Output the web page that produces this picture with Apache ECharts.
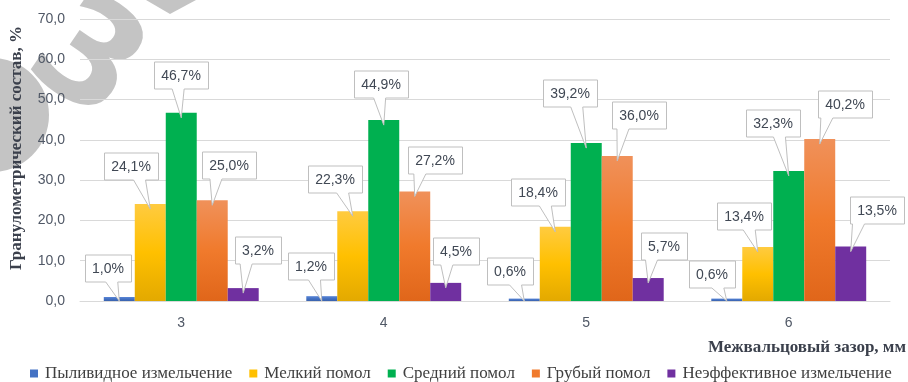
<!DOCTYPE html>
<html>
<head>
<meta charset="utf-8">
<script src="https://cdn.jsdelivr.net/npm/echarts@6/dist/echarts.min.js"></script>
<style>
  html, body { margin: 0; padding: 0; background: #fff; }
  #chart { width: 908px; height: 382px; }
</style>
</head>
<body>
<div id="chart"></div>
<script>
// Roll gap (mm) categories
const categories = ['3', '4', '5', '6'];

// Particle-size fractions, % for each roll gap
const seriesNames = [
  'Пыливидное измельчение',
  'Мелкий помол',
  'Средний помол',
  'Грубый помол',
  'Неэффективное измельчение'
];
const dustFraction        = [1.0, 1.2, 0.6, 0.6];
const fineGrind           = [24.1, 22.3, 18.4, 13.4];
const mediumGrind         = [46.7, 44.9, 39.2, 32.3];
const coarseGrind         = [25.0, 27.2, 36.0, 40.2];
const ineffectiveGrinding = [3.2, 4.5, 5.7, 13.5];
const seriesValues = [dustFraction, fineGrind, mediumGrind, coarseGrind, ineffectiveGrinding];

// Value axis ticks
const yTicks = [0, 10, 20, 30, 40, 50, 60, 70];

// Callout box offsets from the top of each bar [dx, dy] (layout only)
const calloutOffsets = [
  [[-11, -29], [-11, -30], [-14, -28], [-15, -25]],
  [[-19, -38], [-18, -32], [-17, -35], [-14, -31]],
  [[0, -38],   [-3, -36],  [-16, -50], [-16, -48]],
  [[17, -35],  [20, -31],  [22, -41],  [25, -35]],
  [[15, -38],  [10, -32],  [16, -32],  [26, -37]]
];

const CAT_GAP = 0.235;
const N = seriesValues.length;
const LABEL_FONT = '14px "Liberation Sans", Arial, sans-serif';
const SERIF = '"Liberation Serif", "Times New Roman", serif';
const fmt = v => v.toFixed(1).replace('.', ',');

const measureCtx = document.createElement('canvas').getContext('2d');
measureCtx.font = LABEL_FONT;

function vGrad(stops) {
  return new echarts.graphic.LinearGradient(0, 0, 0, 1,
    stops.map((c, i) => ({ offset: i / (stops.length - 1), color: c })));
}
const barColors = [
  vGrad(['#5B86D6', '#4472C4', '#3A62AD']),
  vGrad(['#FFCB40', '#FFC000', '#E3A900']),
  '#00B050',
  vGrad(['#F0915A', '#F07A2C', '#E0661A']),
  '#7030A0'
];
const legendColors = ['#4472C4', '#FFC000', '#00B050', '#F07A2C', '#7030A0'];

const barSeries = seriesNames.map((name, i) => ({
  name: name,
  type: 'bar',
  data: seriesValues[i],
  barGap: '0%',
  barCategoryGap: (CAT_GAP * 100) + '%',
  itemStyle: { color: barColors[i] },
  emphasis: { disabled: true },
  z: 2
}));

// Callout data: [category index, value, series index, dx, dy]
const calloutData = [];
seriesValues.forEach((vals, s) => {
  vals.forEach((v, c) => {
    calloutData.push([c, v, s, calloutOffsets[s][c][0], calloutOffsets[s][c][1]]);
  });
});

const calloutSeries = {
  type: 'custom',
  name: 'callouts',
  data: calloutData,
  z: 5,
  clip: false,
  silent: true,
  renderItem: function (params, api) {
    const c = api.value(0), v = api.value(1), s = api.value(2);
    const dx = api.value(3), dy = api.value(4);
    const band = api.size([1, 0])[0];
    const barW = band * (1 - CAT_GAP) / N;
    const top = api.coord([c, v]);
    const zeroY = api.coord([c, 0])[1];
    const tipX = top[0] + (s - (N - 1) / 2) * barW;
    const tipY = Math.min(top[1] + 5, zeroY);
    const text = fmt(v) + '%';
    const w = Math.round(measureCtx.measureText(text).width + 14);
    const h = 27;
    const cx = Math.round(tipX + dx);
    const cy = Math.round(top[1] + dy);
    const L = cx - w / 2 + 0.5, R = cx + w / 2 + 0.5;
    const T = cy - h / 2 + 0.5, B = cy + h / 2 + 0.5;
    let bc = cx + (tipX - cx) * 0.6 - 3;
    bc = Math.max(L + 8, Math.min(R - 8, bc));
    const points = [[L, T], [R, T], [R, B], [bc + 6, B], [tipX, tipY], [bc - 6, B], [L, B]];
    return {
      type: 'group',
      children: [
        {
          type: 'polygon',
          shape: { points: points },
          style: { fill: '#FFFFFF', stroke: '#BFBFBF', lineWidth: 1 }
        },
        {
          type: 'text',
          style: {
            text: text, x: cx, y: cy + 1,
            align: 'center', verticalAlign: 'middle',
            font: LABEL_FONT, fill: '#404854'
          }
        }
      ]
    };
  }
};

const chart = echarts.init(document.getElementById('chart'), null, { renderer: 'canvas' });
chart.setOption({
  animation: false,
  backgroundColor: '#FFFFFF',
  color: legendColors,
  grid: { left: 80, right: 18, top: 19, bottom: 81, containLabel: false, outerBoundsMode: 'none' },
  legend: {
    data: seriesNames.map((n, i) => ({ name: n, itemStyle: { color: legendColors[i] } })),
    top: 365,
    left: 30,
    icon: 'rect',
    itemWidth: 8,
    itemHeight: 8,
    itemGap: 17,
    padding: 0,
    selectedMode: false,
    textStyle: { fontFamily: SERIF, fontSize: 17, color: '#404040', padding: [0, 0, 0, 2] }
  },
  xAxis: {
    type: 'category',
    data: categories,
    axisLine: { lineStyle: { color: '#D9D9D9', width: 1 } },
    axisTick: { show: false },
    axisLabel: { color: '#505866', fontSize: 14, fontFamily: '"Liberation Sans", Arial, sans-serif', margin: 15 }
  },
  yAxis: {
    type: 'value',
    min: yTicks[0],
    max: yTicks[yTicks.length - 1],
    interval: yTicks[1] - yTicks[0],
    axisLine: { show: false },
    axisTick: { show: false },
    splitLine: { lineStyle: { color: '#D9D9D9', width: 1 } },
    axisLabel: {
      color: '#505866', fontSize: 14, fontFamily: '"Liberation Sans", Arial, sans-serif', margin: 15,
      formatter: v => fmt(v)
    }
  },
  graphic: [
    // faint grey watermark in the upper-left corner
    {
      type: 'group',
      z: -10,
      silent: true,
      children: [
        {
          type: 'circle',
          shape: { cx: -8, cy: 115, r: 57 },
          style: { fill: '#C4C4C4' },
          z: -10
        },
        {
          type: 'polygon',
          shape: { points: [[146, 0], [196, 0], [170, 14]] },
          style: { fill: '#C4C4C4' },
          z: -10
        },
        {
          type: 'text',
          x: 84,
          y: 64,
          rotation: -0.6,
          style: {
            text: '3',
            font: 'bold 145px "DejaVu Sans", sans-serif',
            fill: '#C4C4C4',
            align: 'center',
            verticalAlign: 'middle'
          },
          z: -10
        }
      ]
    },
    {
      type: 'text',
      right: 2,
      top: 339,
      style: {
        text: 'Межвальцовый зазор, мм',
        font: 'bold 17px ' + SERIF,
        fill: '#3B404C'
      }
    },
    {
      type: 'text',
      x: 17,
      y: 148,
      rotation: Math.PI / 2,
      style: {
        text: 'Гранулометрический состав, %',
        font: 'bold 17px ' + SERIF,
        fill: '#3B404C',
        align: 'center',
        verticalAlign: 'middle'
      }
    }
  ],
  series: barSeries.concat([calloutSeries])
});
</script>
</body>
</html>
